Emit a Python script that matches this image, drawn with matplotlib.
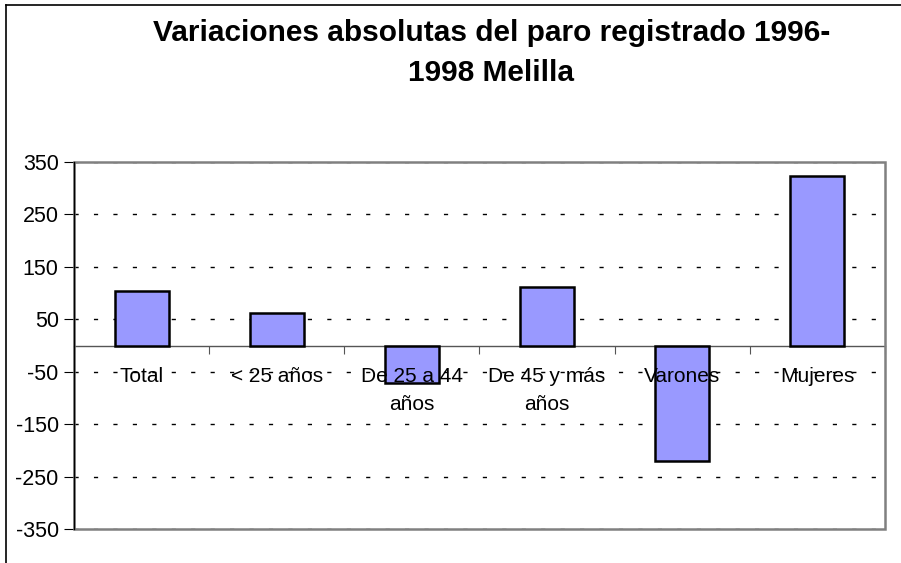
import matplotlib
matplotlib.use("Agg")
import matplotlib.pyplot as plt
from matplotlib.patches import Rectangle
from matplotlib.lines import Line2D
import numpy as np

plt.rcParams["font.family"] = ["Liberation Sans", "DejaVu Sans"]

TITLE = "Variaciones absolutas del paro registrado 1996-\n1998 Melilla"
CATEGORIES = ["Total", "< 25 años", "De 25 a 44\naños", "De 45 y más\naños", "Varones", "Mujeres"]
VALUES = [104, 62, -71, 111, -220, 323]
Y_TICKS = [350, 250, 150, 50, -50, -150, -250, -350]

BAR_COLOR = "#9999FF"
W, H = 901, 563

fig = plt.figure(figsize=(W / 100, H / 100), dpi=100)
ax = fig.add_axes([74 / W, 1 - 529 / H, (885 - 74) / W, (529 - 162) / H])

x = np.arange(len(CATEGORIES))
ax.bar(x, VALUES, width=0.4, color=BAR_COLOR, edgecolor="black", linewidth=1.8, zorder=3)

ax.set_xlim(-0.5, len(CATEGORIES) - 0.5)
ax.set_ylim(-350, 350)
ax.set_yticks(Y_TICKS)
ax.set_yticklabels([str(v) for v in Y_TICKS], fontsize=15.5)
ax.yaxis.grid(True, linestyle=(0, (3, 11)), color="black", linewidth=1.0)
ax.set_axisbelow(True)

# category boundaries as ticks hanging off the zero line
ax.set_xticks(np.arange(len(CATEGORIES) + 1) - 0.5)
ax.set_xticklabels([])
ax.tick_params(axis="x", direction="out", length=6, width=0.8, color="#555555")
ax.tick_params(axis="y", direction="out", length=7, width=0.8, pad=4)

for side in ["top", "right"]:
    ax.spines[side].set_visible(False)
ax.spines["bottom"].set_position(("data", 0))
ax.spines["bottom"].set_color("#555555")
ax.spines["bottom"].set_linewidth(1.0)
ax.spines["left"].set_color("black")
ax.spines["left"].set_linewidth(1.0)
ax.spines["left"].set_zorder(5)

ax.add_patch(Rectangle((0, 0), 1, 1, transform=ax.transAxes, fill=False,
                       edgecolor="#808080", linewidth=1.8, zorder=4, clip_on=False))

for xi, label in zip(x, CATEGORIES):
    ax.text(xi, -41, label, ha="center", va="top", fontsize=15,
            linespacing=1.57, zorder=6)

fig.text(0.5455, 1 - 53 / H, TITLE, ha="center", va="center", fontsize=21.5,
         fontweight="bold", linespacing=1.55)

# outer chart border: only its left and top edges fall inside the picture
fig.lines.append(Line2D([6 / W, 6 / W], [0, 1 - 5 / H], transform=fig.transFigure,
                        color="black", linewidth=1.2))
fig.lines.append(Line2D([6 / W, 1], [1 - 5 / H, 1 - 5 / H], transform=fig.transFigure,
                        color="black", linewidth=1.2))

fig.savefig("out.png", dpi=100)
